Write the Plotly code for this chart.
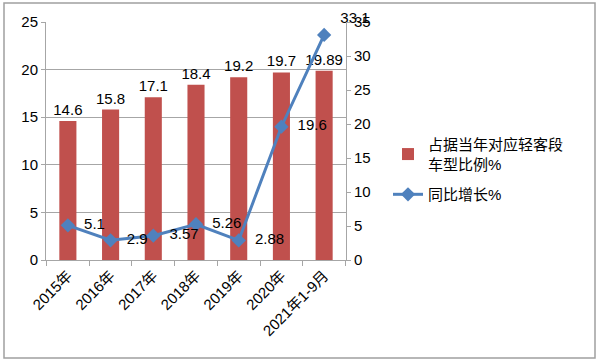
import plotly.graph_objects as go

categories = ["2015年", "2016年", "2017年", "2018年", "2019年", "2020年", "2021年1-9月"]
share = [14.6, 15.8, 17.1, 18.4, 19.2, 19.7, 19.89]
growth = [5.1, 2.9, 3.57, 5.26, 2.88, 19.6, 33.1]
share_labels = ["14.6", "15.8", "17.1", "18.4", "19.2", "19.7", "19.89"]
growth_labels = ["5.1", "2.9", "3.57", "5.26", "2.88", "19.6", "33.1"]

FONT = "Liberation Sans, Noto Sans CJK SC, sans-serif"
BAR = "#C0504D"
LINE = "#4F81BD"
AX = "#A6A6A6"

fig = go.Figure()
fig.add_trace(go.Bar(
    x=categories, y=share, name="占据当年对应轻客段<br>车型比例%",
    legendgroup="a",
    marker=dict(color=BAR, line=dict(width=0)), width=0.4,
    text=share_labels, textposition="outside", cliponaxis=False,
    constraintext="none",
    textfont=dict(size=15, color="black", family=FONT),
))
fig.add_trace(go.Scatter(
    x=categories, y=growth, name="同比增长%", yaxis="y2",
    legendgroup="b",
    mode="lines+markers+text",
    line=dict(color=LINE, width=3),
    marker=dict(symbol="diamond", size=11, color=LINE),
    text=growth_labels, texttemplate="  %{text}",
    textposition=["middle right"] * 6 + ["top right"],
    cliponaxis=False,
    textfont=dict(size=15, color="black", family=FONT),
))

fig.update_layout(
    width=600, height=361,
    margin=dict(l=46, r=254, t=22, b=101),
    paper_bgcolor="white", plot_bgcolor="white",
    font=dict(family=FONT, size=15, color="black"),
    xaxis=dict(
        type="category", tickangle=-45, tickson="boundaries",
        ticks="outside", ticklen=5, tickcolor=AX,
        showline=True, linecolor=AX, linewidth=1,
        showgrid=False, tickfont=dict(size=15), automargin=False,
    ),
    yaxis=dict(
        range=[0, 25], dtick=5, showgrid=True, gridcolor=AX, gridwidth=1,
        showline=True, linecolor=AX, ticks="outside", ticklen=4, tickcolor=AX,
        zeroline=False, tickfont=dict(size=15), automargin=False,
    ),
    yaxis2=dict(
        range=[0, 35], dtick=5, overlaying="y", side="right", showgrid=False,
        showline=True, linecolor=AX, ticks="outside", ticklen=4, tickcolor=AX,
        zeroline=False, tickfont=dict(size=15), automargin=False,
    ),
    legend=dict(
        x=1.14, y=0.38, xanchor="left", yanchor="middle",
        font=dict(size=15), tracegroupgap=8, bgcolor="rgba(0,0,0,0)",
    ),
    showlegend=True,
    shapes=[dict(
        type="rect", xref="paper", yref="paper",
        x0=-0.14, x1=1.83, y0=-0.412, y1=1.08,
        line=dict(color="#A0A0A0", width=1.5), layer="below",
    )],
)

fig.write_html(
    "out.html",
    config={"displayModeBar": False},
    post_script="document.body.style.margin='0';document.body.style.overflow='hidden';",
)
